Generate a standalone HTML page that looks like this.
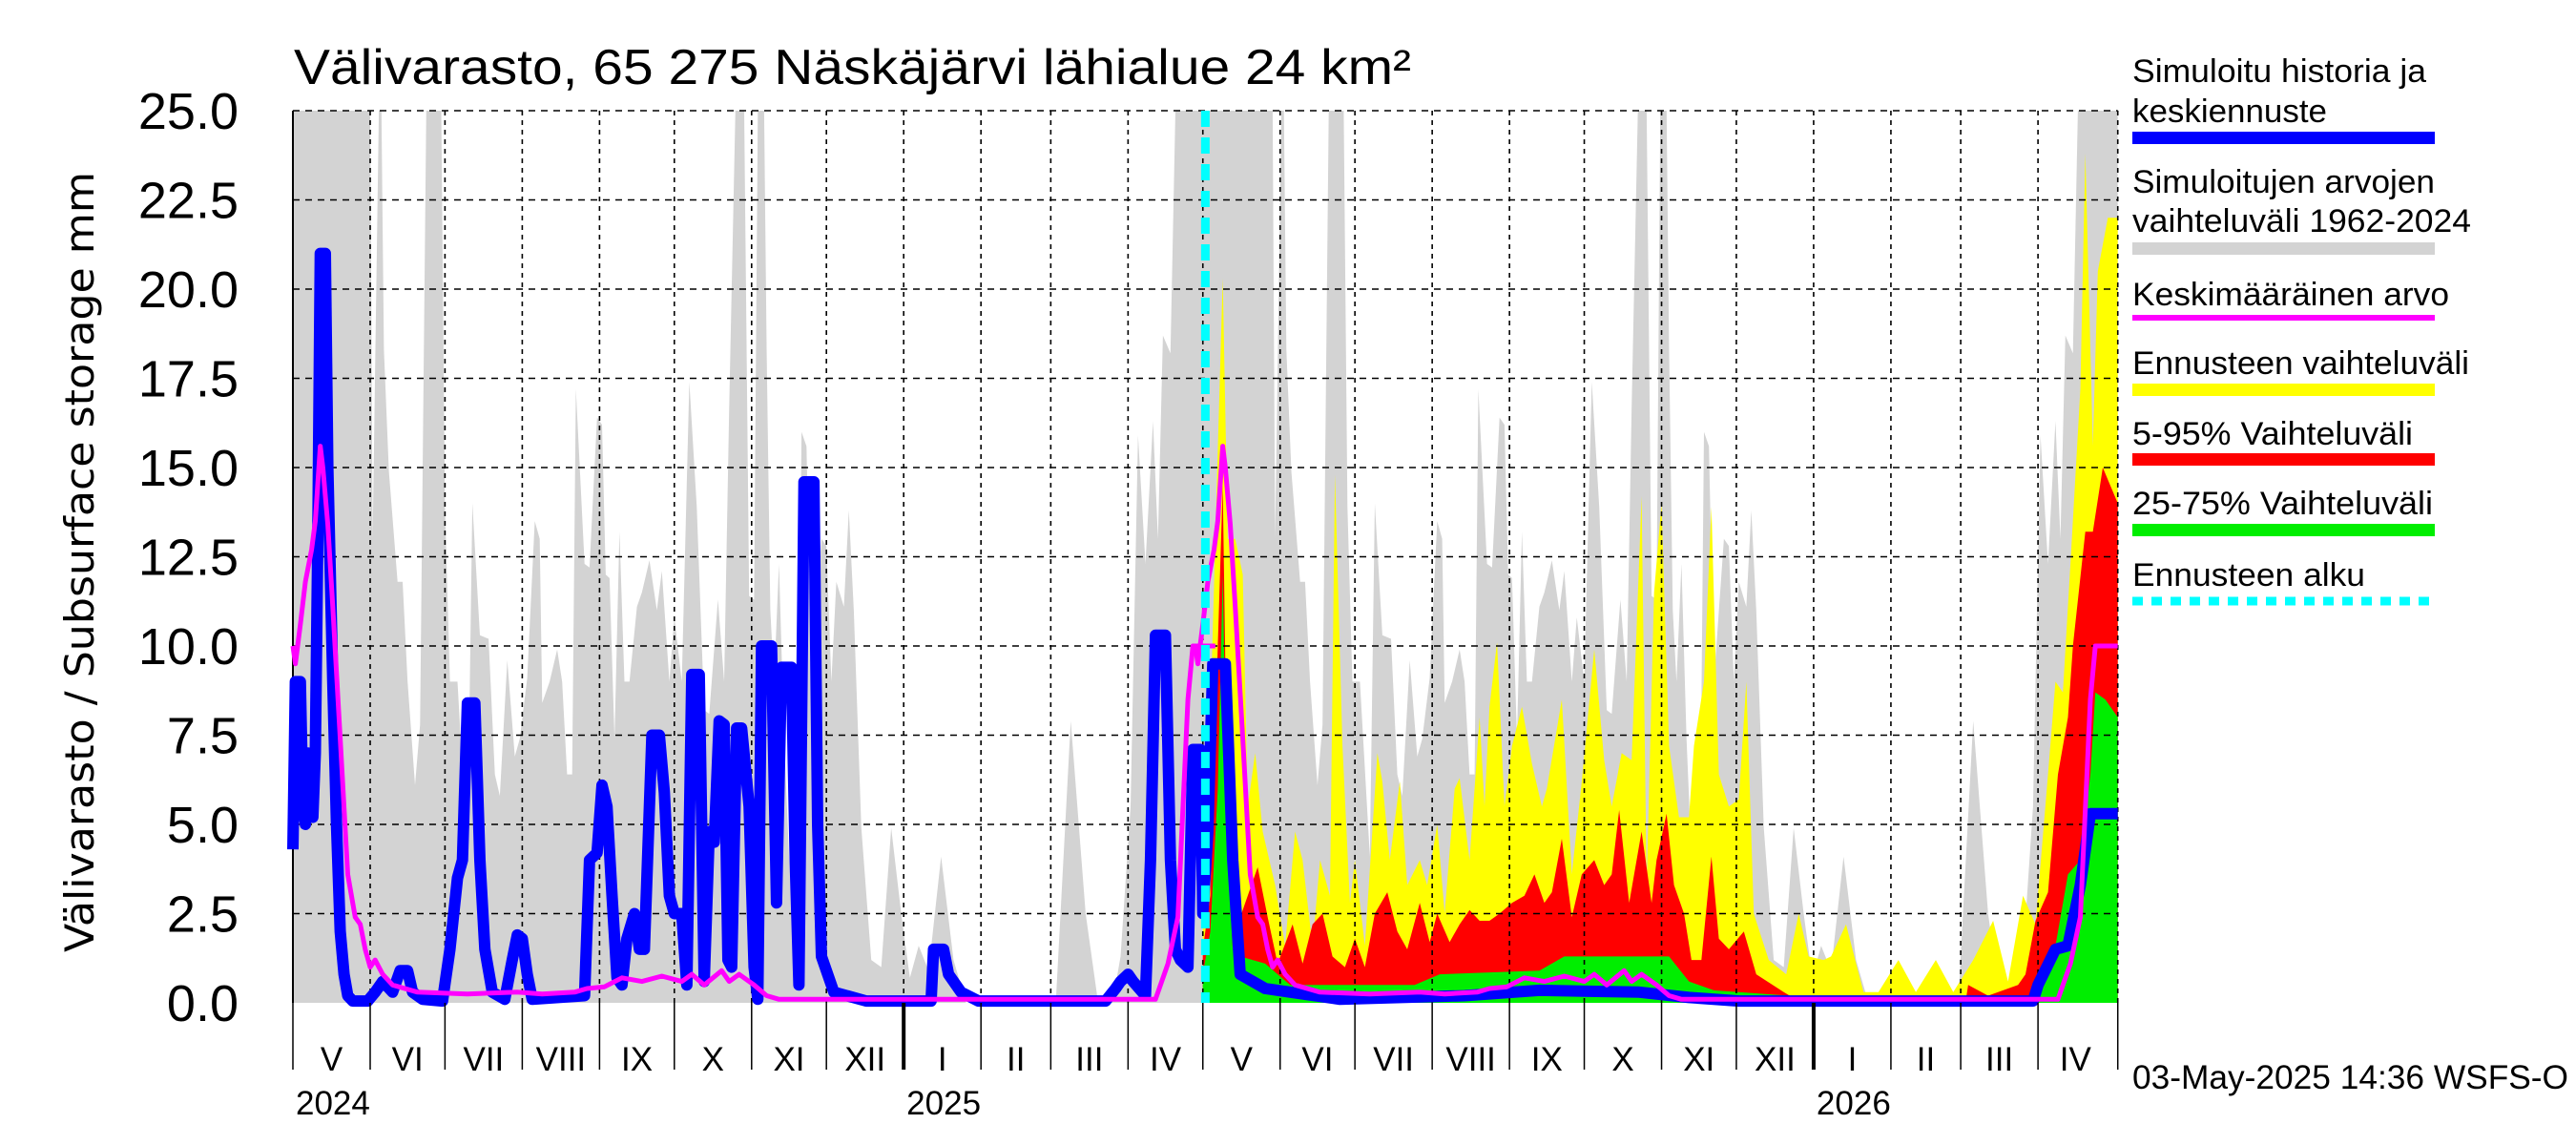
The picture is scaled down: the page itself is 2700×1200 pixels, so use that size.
<!DOCTYPE html>
<html><head><meta charset="utf-8"><style>
html,body{margin:0;padding:0;background:#fff;}
svg{display:block;font-family:"Liberation Sans",sans-serif;}
</style></head><body>
<svg id="chart" xmlns="http://www.w3.org/2000/svg" width="2700" height="1200" viewBox="0 0 2700 1200">
<rect x="0" y="0" width="2700" height="1200" fill="#fff"/>
<text x="308" y="88" font-size="52" textLength="1171" lengthAdjust="spacingAndGlyphs">Välivarasto, 65 275 Näskäjärvi lähialue 24 km²</text>
<text transform="translate(98,589) rotate(-90)" text-anchor="middle" font-size="42" font-family="DejaVu Sans, sans-serif" textLength="818" lengthAdjust="spacingAndGlyphs">Välivarasto / Subsurface storage  mm</text>
<g id="plot"></g>
<g id="legend">
<text x="2235" y="86" font-size="34" textLength="308" lengthAdjust="spacingAndGlyphs">Simuloitu historia ja</text>
<text x="2235" y="128" font-size="34" textLength="204" lengthAdjust="spacingAndGlyphs">keskiennuste</text>
<rect x="2235" y="138" width="317" height="13" fill="#0000ff"/>
<text x="2235" y="202" font-size="34" textLength="317" lengthAdjust="spacingAndGlyphs">Simuloitujen arvojen</text>
<text x="2235" y="243" font-size="34" textLength="355" lengthAdjust="spacingAndGlyphs">vaihteluväli 1962-2024</text>
<rect x="2235" y="254" width="317" height="13" fill="#d3d3d3"/>
<text x="2235" y="320" font-size="34" textLength="332" lengthAdjust="spacingAndGlyphs">Keskimääräinen arvo</text>
<rect x="2235" y="330" width="317" height="6" fill="#ff00ff"/>
<text x="2235" y="392" font-size="34" textLength="353" lengthAdjust="spacingAndGlyphs">Ennusteen vaihteluväli</text>
<rect x="2235" y="402" width="317" height="13" fill="#ffff00"/>
<text x="2235" y="466" font-size="34" textLength="294" lengthAdjust="spacingAndGlyphs">5-95% Vaihteluväli</text>
<rect x="2235" y="475" width="317" height="13" fill="#ff0000"/>
<text x="2235" y="539" font-size="34" textLength="315" lengthAdjust="spacingAndGlyphs">25-75% Vaihteluväli</text>
<rect x="2235" y="549" width="317" height="13" fill="#00ee00"/>
<text x="2235" y="614" font-size="34" textLength="244" lengthAdjust="spacingAndGlyphs">Ennusteen alku</text>
<line x1="2235" y1="630" x2="2552" y2="630" stroke="#00ffff" stroke-width="9" stroke-dasharray="11,9"/>
</g>
<text x="2235" y="1141" font-size="35" textLength="457" lengthAdjust="spacingAndGlyphs">03-May-2025 14:36 WSFS-O</text>
</svg>
<script>
// ---- data ----
const yTicks = [0, 2.5, 5, 7.5, 10, 12.5, 15, 17.5, 20, 22.5, 25];
const monthLabels = ["V","VI","VII","VIII","IX","X","XI","XII","I","II","III","IV","V","VI","VII","VIII","IX","X","XI","XII","I","II","III","IV"];
const monthDays = [31,30,31,31,30,31,30,31,31,28,31,30,31,30,31,31,30,31,30,31,31,28,31,30];
const yearLabels = ["2024","2025","2026"];
const yearLabelMonth = [0, 8, 20];
const climYearStarts = [0, 362];
const forecastStartDay = 366;
// climatology range max (day of year from May 1)
const rangeDoy = [0,31,32,34.5,35.5,36.5,38.5,42,44,46,49,51,53.5,59.5,61,63,66,70,72,75,78.5,81,83,86,89,91,94,97,99,100,103,106,108,110,112,113.5,117,119,122,124,125.5,127,129,131,133,135,138,140,143,146,148,151,153,156,159,162,165,167,170.5,173,175,177.5,181,183,185,186.5,189,190,191.5,193,195,197,199,202,204,206,208,212,214,216,218,221,223,225,228,232,236,240,244,247.5,251,255,260,265,270,306,312,318,323,330,332,336,339,342,345,347,349,352,354,370];
const rangeMax = [25,25,13,25,25,18.3,14.9,11.8,11.8,9,6.1,7.8,25,25,13.9,9,9,4.1,14,10.3,10.2,6.4,5.8,9.6,6.9,7.4,9.1,13.5,13,8.4,9,9.9,9,6.4,6.4,17.2,12.3,12.2,16.4,16.2,12,11.9,7.4,13.2,9,9,11.1,11.5,12.4,11,12.1,9,10.8,9,17.4,13.9,8.2,8.1,11.3,9,16.7,25,25,11.4,11.3,25,25,18.4,11,9,12.3,7.4,4.1,1,16,15.6,9,13,12.8,9,11.8,11.1,13.8,11,4.9,1.2,1,4.9,2.5,0.7,1.6,0.9,4.1,1.2,0,0,7.9,2.5,0,0.5,1.3,5.5,15.9,12.3,16.3,13,18.7,18.2,25,25];
// climatological mean
const meanDoy = [0,1,3,5,7.5,9,11,12,14,16,19,22,25,27,29,31,33,36,40,50,70,90,100,113,118,125,132,140,148,156,160,165,172,175,179,185,190,195,346,351,355,359,361,363,370];
const meanVal = [10,9.5,10.6,11.8,12.7,13.5,15.6,15,13.4,11.1,7.4,3.6,2.4,2.2,1.5,1.0,1.2,0.8,0.5,0.3,0.25,0.3,0.25,0.3,0.4,0.45,0.7,0.6,0.75,0.6,0.8,0.5,0.9,0.6,0.8,0.5,0.2,0.1,0.1,1.1,2.4,8.5,10,10,10];
// simulated history + median forecast
const simDays = [0,1,3,4,5,6,7,8,9,10,11,13,14,15,16,17.5,19,20.5,22,24,30,33,36,40,43,46,48,52,60,63,66,68,70,73,75,77,80,85,88,90,92,94,96,117,119,122,124,126,128,130,132,134,137,139,141,144,147,149,151,153,156,158,160,163,165,167,169,171,173,174.5,176,178,180,183,185,186.5,188,192,194,196,200,201.5,203,205,209,210.5,212,217,230,256,257,261,263,268,275,326,330,332,335,337,342,344,346,350,352,354,356,359,361,364,365,367,369,374,377,380,390,400,420,470,500,540,560,580,698,700,707,712,717,721,725,732];
const simVal = [4.3,9,9,5.5,5,7,5.5,5.2,7,13,21,21,15,12,9,5,2,0.8,0.2,0.05,0.05,0.3,0.6,0.3,0.9,0.9,0.3,0.1,0.05,1.5,3.5,4,8.4,8.4,4,1.5,0.3,0.1,1.2,1.9,1.8,0.8,0.1,0.2,4,4.2,6.1,5.5,3,0.7,0.5,1.8,2.5,1.5,1.5,7.5,7.5,5.9,3,2.5,2.5,0.5,9.2,9.2,0.6,4.8,4.5,7.9,7.8,1.2,1,7.7,7.7,5.5,1,0.1,10,10,2.8,9.4,9.4,4,0.5,14.6,14.6,5,1.3,0.3,0.05,0.05,1.5,1.5,0.8,0.3,0.05,0.05,0.4,0.6,0.8,0.6,0.2,4,10.3,10.3,4,1.5,1.2,1,7.1,7.1,2.5,4.8,9.5,9.5,4,0.8,0.4,0.3,0.1,0.2,0.35,0.3,0.15,0.05,0.05,0.5,1.5,1.6,3.3,5.3,5.3,5.3];
// forecast envelopes
const fcMaxDays = [365,368,371,373,375,378,381,383,386,389,394,398,402,405,409,412,416,418,421,424,426,430,435,437,440,444,447,452,455,459,462,466,468,472,476,478,480,483,486,489,493,497,501,503,509,513,517,522,526,529,533,537,541,543,546,549,552,556,560,562,566,569,572,576,580,583,586,592,599,604,608,614,617,623,630,636,644,651,659,666,674,682,688,694,699,704,707,710,713,717,719,722,724,728,732];
const fcMaxVal = [2,8,15.5,20.3,13,13,12,5.5,7,4.8,3.3,1.6,4.8,4,1.6,4,3,14.8,7.2,2.8,4,1.6,7,6.2,4,6.2,3.3,4,3.3,5,2.5,6,6.3,4,8,5.5,8.3,10.1,5.5,7.2,8.3,6.7,5.5,6,8.5,3.6,6.2,9.9,6.8,5.5,7,6.8,14.2,3.3,11.5,14,7.2,5.2,5.2,7.2,9,13.9,6.4,5.5,5.7,9,2.5,1.2,0.8,2.5,1.3,1.2,1.3,2.2,0.3,0.3,1.2,0.3,1.2,0.3,1.2,2.3,0.6,3,2.2,6.4,9,8.7,12.3,17.2,23.8,15.6,20.5,22,22];
const fc95Days = [365,368,371,373,375,378,383,387,391,395,401,405,409,413,417,422,426,430,434,439,443,447,452,456,459,464,468,472,476,480,484,489,494,498,502,505,509,513,517,522,526,529,532,536,541,545,547,551,554,558,561,565,569,572,576,582,587,598,604,671,672,680,692,695,699,704,708,712,714,719,722,726,732];
const fc95Val = [1.5,3,10,14.5,4.8,2,3,3.8,2.4,1.1,2.2,1.1,2.2,2.5,1.3,1,1.8,1,2.5,3.1,2,1.5,2.8,1.7,2.5,1.7,2.2,2.6,2.3,2.3,2.5,2.8,3,3.6,2.8,3.1,4.6,2.4,3.6,4,3.3,3.6,5.4,2.8,4.8,2.8,4,5.3,3.3,2.5,1.2,1.2,4.1,1.8,1.5,2,0.8,0.3,0.05,0.05,0.5,0.2,0.5,0.8,2.3,3.1,6.4,8,10,13.2,13.2,15,14];
const fc75Days = [365,368,371,373,375,377,380,390,400,450,460,500,510,550,552,560,570,600,610,698,701,707,712,717,721,723,727,732];
const fc75Val = [0.8,2,6,12,4,1.5,1.3,1.1,0.5,0.5,0.8,0.9,1.3,1.3,1.3,0.6,0.35,0.2,0.05,0.05,0.8,1.6,3.6,4,6.4,8.7,8.5,8];

// ---- scales ----
const X0 = 307, PXD = 2.613, Y0 = 1051, PXV = 37.4, XMAX = 732;
function xs(d){ return X0 + d*PXD; }
function ys(v){ return Y0 - v*PXV; }
const NS = "http://www.w3.org/2000/svg";
const plot = document.getElementById("plot");
function mk(tag, attrs, parent){
  const e = document.createElementNS(NS, tag);
  for (const k in attrs) e.setAttribute(k, attrs[k]);
  (parent||plot).appendChild(e);
  return e;
}
function clipPts(days, vals, off){
  const pts = [];
  for (let i=0;i<days.length;i++){
    let d = days[i] + off;
    if (d > XMAX) {
      if (i>0 && days[i-1]+off < XMAX){
        const d0 = days[i-1]+off, t = (XMAX-d0)/(d-d0);
        pts.push([XMAX, vals[i-1] + t*(vals[i]-vals[i-1])]);
      }
      break;
    }
    pts.push([d, vals[i]]);
  }
  return pts;
}
function areaPath(pts){
  let s = "M" + xs(pts[0][0]).toFixed(1) + "," + ys(0);
  for (const p of pts) s += " L" + xs(p[0]).toFixed(1) + "," + ys(p[1]).toFixed(1);
  s += " L" + xs(pts[pts.length-1][0]).toFixed(1) + "," + ys(0) + " Z";
  return s;
}
function linePath(pts){
  return pts.map((p,i)=>(i?"L":"M")+xs(p[0]).toFixed(1)+","+ys(p[1]).toFixed(1)).join(" ");
}

for (let k=0;k<climYearStarts.length;k++){
  const p = mk("path", {d: areaPath(clipPts(rangeDoy, rangeMax, climYearStarts[k])), fill:"#d3d3d3"});
  
  
}
const bands = [[fcMaxDays, fcMaxVal, "#ffff00", "forecast-range-area"],
               [fc95Days, fc95Val, "#ff0000", "forecast-5-95-area"],
               [fc75Days, fc75Val, "#00ee00", "forecast-25-75-area"]];
for (const b of bands){
  const p = mk("path", {d: areaPath(clipPts(b[0], b[1], 0)), fill:b[2]});
  
  
}
const grid = mk("g", {});


for (const t of yTicks){
  if (t === 0) continue;
  const l = mk("line", {x1:X0, x2:xs(XMAX), y1:ys(t), y2:ys(t), stroke:"#000", "stroke-width":1.6, "stroke-dasharray":"7,6"}, grid);
  
  
}
let acc = 0;
const monthStarts = [];
for (let i=0;i<monthDays.length;i++){ monthStarts.push(acc); acc += monthDays[i]; }
for (let i=1;i<monthStarts.length;i++){
  const l = mk("line", {x1:xs(monthStarts[i]), x2:xs(monthStarts[i]), y1:ys(25), y2:Y0, stroke:"#000", "stroke-width":1.6, "stroke-dasharray":"5,5"}, grid);
  
  
}
const rb = mk("line", {x1:xs(XMAX), x2:xs(XMAX), y1:ys(25), y2:Y0, stroke:"#000", "stroke-width":1.6, "stroke-dasharray":"5,5"}, grid);


const lb = mk("line", {x1:X0, x2:X0, y1:ys(25), y2:Y0, stroke:"#000", "stroke-width":2}, grid);



const sim = mk("path", {d: linePath(clipPts(simDays, simVal, 0)), fill:"none", stroke:"#0000ff", "stroke-width":12, "stroke-linejoin":"round"});


for (let k=0;k<climYearStarts.length;k++){
  const m = mk("path", {d: linePath(clipPts(meanDoy, meanVal, climYearStarts[k])), fill:"none", stroke:"#ff00ff", "stroke-width":5, "stroke-linejoin":"round"});
  
  
}
const fs = mk("line", {x1:xs(forecastStartDay), x2:xs(forecastStartDay), y1:ys(25), y2:Y0, stroke:"#00ffff", "stroke-width":9, "stroke-dasharray":"17,11"});



for (const t of yTicks){
  const tx = mk("text", {x:250, y:ys(t)+19, "font-size":54, "text-anchor":"end"});
  tx.textContent = t.toFixed(1);
  
  
}
for (let i=0;i<=monthStarts.length;i++){
  const d = i<monthStarts.length ? monthStarts[i] : XMAX;
  const isJan = i<monthLabels.length && monthLabels[i]==="I";
  const l = mk("line", {x1:xs(d), x2:xs(d), y1:Y0, y2:1121, stroke:"#000", "stroke-width": isJan?4:1.5});
  
  
}
for (let i=0;i<monthLabels.length;i++){
  const tx = mk("text", {x:xs(monthStarts[i]+monthDays[i]/2), y:1122, "font-size":35, "text-anchor":"middle"});
  tx.textContent = monthLabels[i];
  
  
}
for (let i=0;i<yearLabels.length;i++){
  const tx = mk("text", {x:xs(monthStarts[yearLabelMonth[i]])+3, y:1168, "font-size":35});
  tx.textContent = yearLabels[i];
  
  
}
</script>
</body></html>
